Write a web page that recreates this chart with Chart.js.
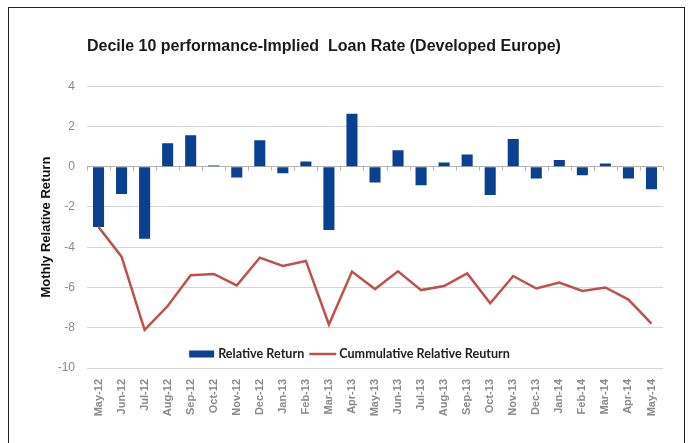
<!DOCTYPE html>
<html>
<head>
<meta charset="utf-8">
<script src="https://cdn.jsdelivr.net/npm/chart.js@4/dist/chart.umd.min.js"></script>
<style>
  html, body { margin: 0; padding: 0; background: #fff; overflow: hidden; }
  #wrap { position: relative; width: 691px; height: 443px; }
  #frame { position: absolute; left: 8px; top: 7px; width: 675px; height: 500px;
           border: 1.5px solid #222; pointer-events: none; }
</style>
</head>
<body>
<div id="wrap">
  <canvas id="chart" width="691" height="443"></canvas>
  <div id="frame"></div>
</div>
<script>
// months May-12 .. May-14
var months = ['May-12','Jun-12','Jul-12','Aug-12','Sep-12','Oct-12','Nov-12','Dec-12',
  'Jan-13','Feb-13','Mar-13','Apr-13','May-13','Jun-13','Jul-13','Aug-13','Sep-13',
  'Oct-13','Nov-13','Dec-13','Jan-14','Feb-14','Mar-14','Apr-14','May-14'];

var relativeReturn = [-3.0, -1.36, -3.58, 1.16, 1.56, 0.06, -0.53, 1.31, -0.33, 0.26,
  -3.14, 2.63, -0.79, 0.82, -0.92, 0.21, 0.61, -1.41, 1.38, -0.58, 0.33, -0.43, 0.16,
  -0.58, -1.12];

var cumulativeReturn = [-3.0, -4.47, -8.1, -6.92, -5.39, -5.33, -5.9, -4.52, -4.93, -4.68,
  -7.84, -5.21, -6.08, -5.2, -6.13, -5.93, -5.3, -6.78, -5.43, -6.05, -5.75, -6.17, -6.0,
  -6.6, -7.8];

var yTicks = { min: -10, max: 4, step: 2 };

var BLUE = '#0b3f8f';
var RED = '#c0504d';

// zero line tick marks + legend drawn inside the plot
var extras = {
  id: 'extras',
  afterDatasetsDraw: function(chart) {
    var ctx = chart.ctx;
    var area = chart.chartArea;
    var x = chart.scales.x, y = chart.scales.y;
    var y0 = y.getPixelForValue(0);

    ctx.save();
    ctx.strokeStyle = '#b5b5b5';
    ctx.lineWidth = 1;
    for (var i = 0; i <= months.length; i++) {
      var px;
      if (i === 0) px = area.left;
      else if (i === months.length) px = area.right;
      else px = (x.getPixelForValue(i - 1) + x.getPixelForValue(i)) / 2;
      ctx.beginPath();
      ctx.moveTo(Math.round(px) + 0.5, y0);
      ctx.lineTo(Math.round(px) + 0.5, y0 + 4);
      ctx.stroke();
    }

    // legend
    var labels = ['Relative Return', 'Cummulative Relative Reuturn'];
    ctx.font = 'bold 12.6px Lato';
    ctx.textBaseline = 'middle';
    var w1 = ctx.measureText(labels[0]).width;
    var w2 = ctx.measureText(labels[1]).width;
    var total = 25 + 4 + w1 + 5 + 27 + 3 + w2;
    var lx = chart.width / 2 + 4 - total / 2;
    var ly = area.bottom - 14;

    ctx.fillStyle = BLUE;
    ctx.fillRect(lx, ly - 3.5, 25, 7);
    lx += 29;
    ctx.fillStyle = '#222';
    ctx.fillText(labels[0], lx, ly);
    lx += w1 + 5;
    ctx.strokeStyle = RED;
    ctx.lineWidth = 2.5;
    ctx.beginPath();
    ctx.moveTo(lx, ly);
    ctx.lineTo(lx + 27, ly);
    ctx.stroke();
    lx += 30;
    ctx.fillText(labels[1], lx, ly);
    ctx.restore();
  }
};

var ctx = document.getElementById('chart').getContext('2d');
new Chart(ctx, {
  data: {
    labels: months,
    datasets: [
      {
        type: 'line',
        label: 'Cummulative Relative Reuturn',
        data: cumulativeReturn,
        borderColor: RED,
        borderWidth: 2.5,
        pointRadius: 0,
        tension: 0,
        order: 0
      },
      {
        type: 'bar',
        label: 'Relative Return',
        data: relativeReturn,
        backgroundColor: BLUE,
        barPercentage: 0.5,
        categoryPercentage: 0.96,
        order: 1
      }
    ]
  },
  options: {
    responsive: false,
    animation: false,
    layout: { padding: { left: 0, right: 28, top: 0, bottom: 0 } },
    plugins: {
      legend: { display: false },
      tooltip: { enabled: false },
      title: {
        display: true,
        fullSize: false,
        align: 'start',
        text: 'Decile 10 performance-Implied  Loan Rate (Developed Europe)',
        color: '#1a1a1a',
        font: { family: 'Liberation Sans', size: 16, weight: 'bold', lineHeight: 1.2 },
        padding: { top: 37, bottom: 30 }
      }
    },
    scales: {
      x: {
        offset: true,
        grid: { display: false },
        border: { display: false },
        ticks: {
          color: '#8a8a8a',
          font: { family: 'Liberation Sans', size: 11, weight: 'bold' },
          minRotation: 90,
          maxRotation: 90,
          autoSkip: false,
          padding: 3
        },
        afterFit: function(scale) { scale.height = 75; }
      },
      y: {
        min: yTicks.min,
        max: yTicks.max,
        ticks: {
          stepSize: yTicks.step,
          color: '#8a8a8a',
          font: { family: 'Liberation Sans', size: 12 },
          padding: 12
        },
        grid: {
          drawTicks: false,
          color: function(c) { return c.tick && c.tick.value === 0 ? '#b5b5b5' : '#d6d6d6'; },
          lineWidth: 1
        },
        border: { display: false },
        title: {
          display: true,
          text: 'Mothly Relative Return',
          color: '#111',
          font: { family: 'Liberation Sans', size: 13, weight: 'bold', lineHeight: 1.2 },
          padding: { top: 39, bottom: 0 }
        },
        afterFit: function(scale) { scale.width = 87; }
      }
    }
  },
  plugins: [extras]
});
</script>
</body>
</html>
